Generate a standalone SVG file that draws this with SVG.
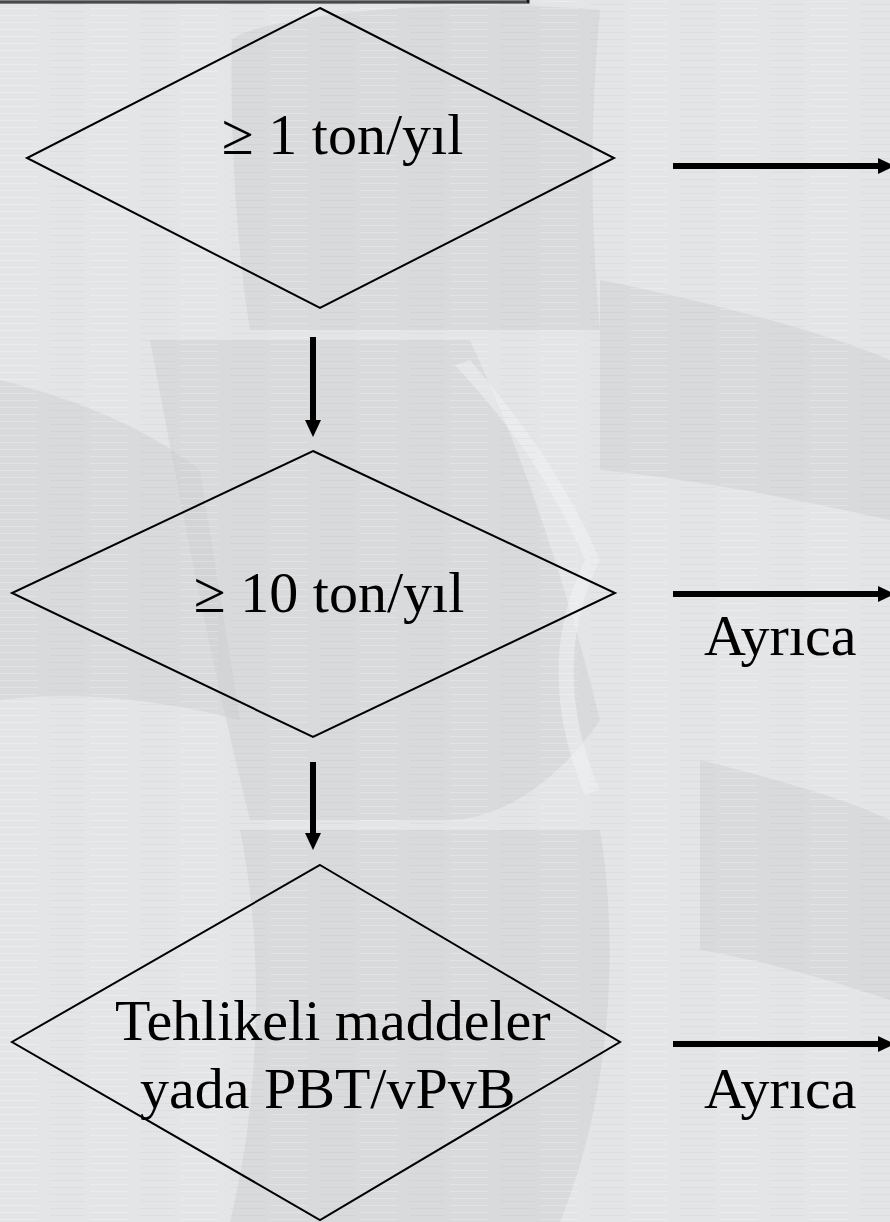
<svg xmlns="http://www.w3.org/2000/svg" width="890" height="1222" viewBox="0 0 890 1222">
  <defs>
    <pattern id="brush" width="90" height="7" patternUnits="userSpaceOnUse">
      <rect width="90" height="7" fill="none"/>
      <line x1="0" y1="1.5" x2="38" y2="1.5" stroke="#ffffff" stroke-opacity="0.25" stroke-width="1"/>
      <line x1="50" y1="4.5" x2="85" y2="4.5" stroke="#9a9ca0" stroke-opacity="0.10" stroke-width="1"/>
    </pattern>
  </defs>
  <style>
    .shape { fill: none; stroke: #000; stroke-width: 2; }
    .lbl { font-family: "Liberation Serif", "Times New Roman", serif; font-size: 58px; fill: #000; }
    .conn { stroke: #000; stroke-width: 6; fill: none; }
    .head { fill: #000; }
    .wm { fill: #c9cacd; fill-opacity: 0.4; }
    .wl { fill: #f2f3f4; fill-opacity: 0.45; }
  </style>

  <!-- background -->
  <rect x="0" y="0" width="890" height="1222" fill="#e4e5e7"/>
  <g id="watermark">
    <path class="wm" d="M232,40 C250,20 420,-5 600,10 C590,120 590,220 600,330 L250,330 C235,240 230,120 232,40 Z"/>
    <path class="wm" d="M600,280 C700,300 820,330 890,360 L890,520 C800,500 700,480 600,470 Z"/>
    <path class="wm" d="M0,380 C80,400 150,430 200,470 L240,720 C160,700 80,690 0,700 Z"/>
    <path class="wm" d="M150,340 L470,340 C520,450 560,560 600,720 C560,780 500,820 450,820 L250,820 C210,660 180,500 150,340 Z"/>
    <path class="wl" d="M470,360 C520,420 560,470 600,560 C570,620 560,700 600,790 L585,795 C545,700 555,620 585,560 C545,470 505,420 455,365 Z"/>
    <path class="wm" d="M700,760 C780,780 850,800 890,820 L890,1000 C830,980 760,960 700,950 Z"/>
    <path class="wm" d="M240,830 L600,830 C620,950 610,1100 560,1222 L230,1222 C260,1100 265,950 240,830 Z"/>
  </g>
  <rect x="0" y="0" width="890" height="1222" fill="url(#brush)"/>

  <!-- top box edge -->
  <g id="topbox">
    <rect x="-10" y="-20" width="538" height="22" fill="none" stroke="#1a1a1a" stroke-width="3"/>
    <line x1="0" y1="2" x2="527" y2="2" stroke="#777" stroke-width="1"/>
  </g>

  <g id="node1">
    <polygon class="shape" points="320,8 614,158 320,308 27,158"/>
    <text class="lbl" x="222" y="154">≥ 1 ton/yıl</text>
  </g>

  <g id="node2">
    <polygon class="shape" points="313,451 615,593 313,737 12,593"/>
    <text class="lbl" x="194" y="612">≥ 10 ton/yıl</text>
  </g>

  <g id="node3">
    <polygon class="shape" points="320,865 620,1042 320,1220 12,1042"/>
    <text class="lbl" x="115" y="1040">Tehlikeli maddeler</text>
    <text class="lbl" x="140" y="1108">yada PBT/vPvB</text>
  </g>

  <g id="label1">
    <text class="lbl" x="704" y="655">Ayrıca</text>
  </g>
  <g id="label2">
    <text class="lbl" x="704" y="1108">Ayrıca</text>
  </g>

  <g id="connectors">
    <line class="conn" x1="313" y1="337" x2="313" y2="422"/>
    <polygon class="head" points="305,420 321,420 313,437"/>
    <line class="conn" x1="313" y1="762" x2="313" y2="835"/>
    <polygon class="head" points="305,833 321,833 313,850"/>
    <line class="conn" x1="673" y1="166" x2="880" y2="166"/>
    <polygon class="head" points="878,158 878,174 895,166"/>
    <line class="conn" x1="673" y1="594" x2="880" y2="594"/>
    <polygon class="head" points="878,586 878,602 895,594"/>
    <line class="conn" x1="673" y1="1044" x2="880" y2="1044"/>
    <polygon class="head" points="878,1036 878,1052 895,1044"/>
  </g>
</svg>
